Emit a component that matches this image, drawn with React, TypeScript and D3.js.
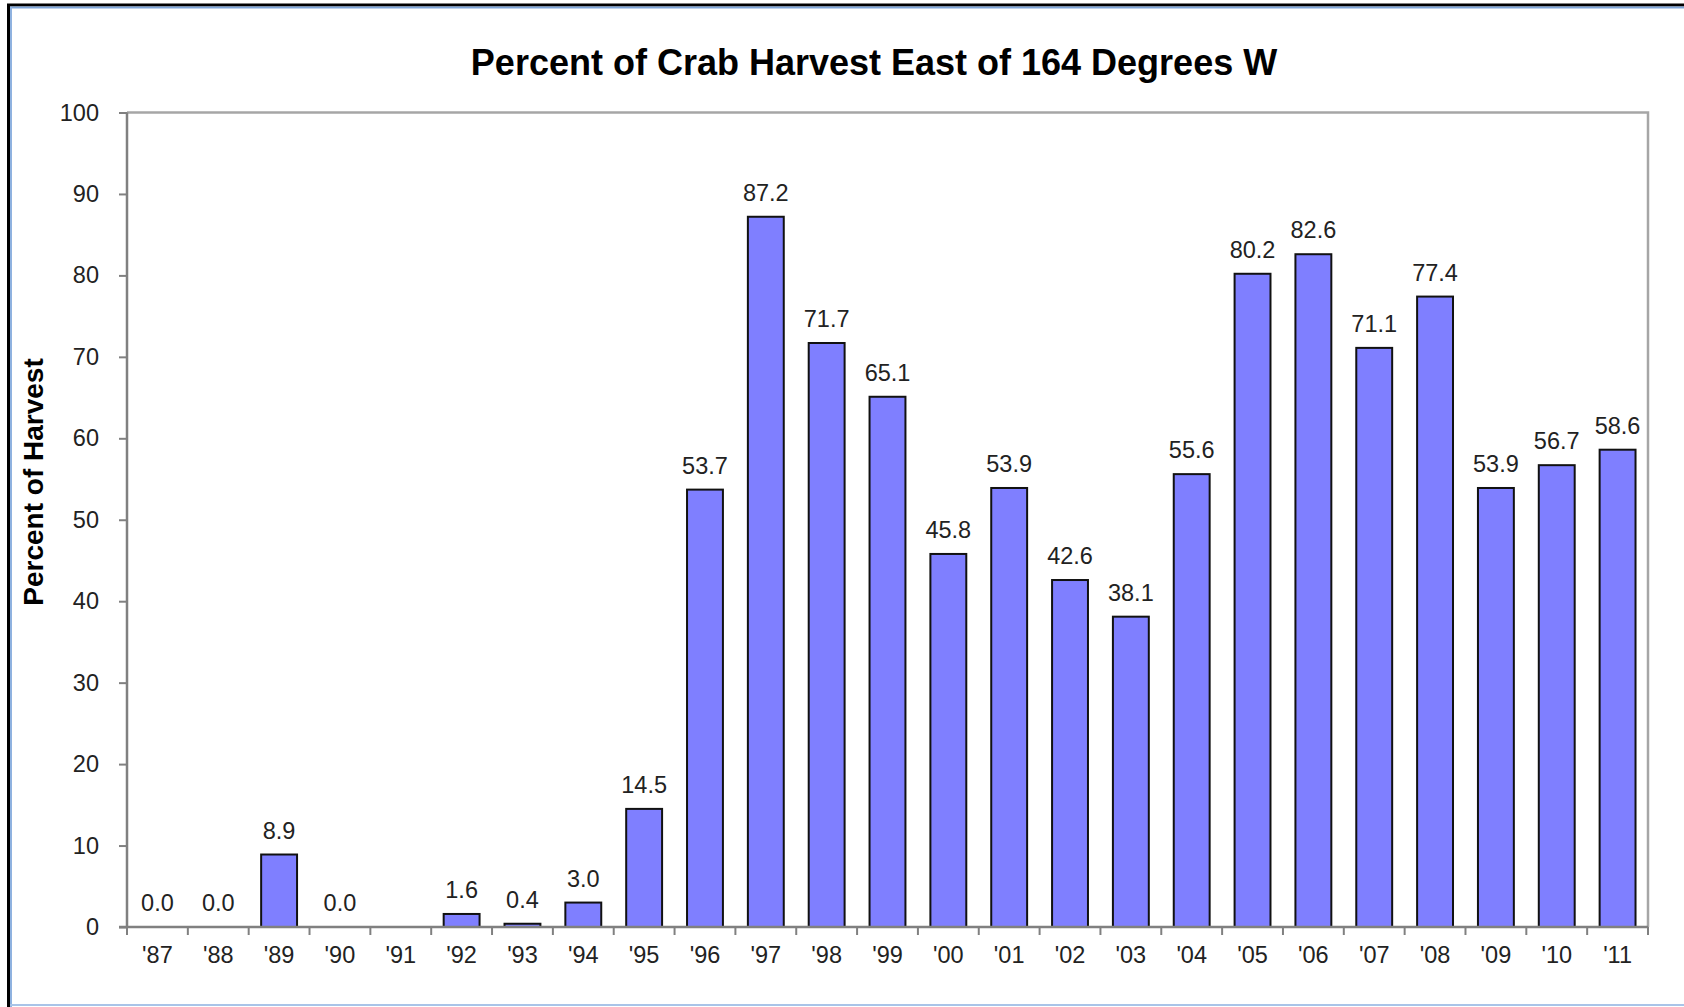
import React, { useRef, useEffect } from 'react';
import * as d3 from 'd3';

const years = ["'87", "'88", "'89", "'90", "'91", "'92", "'93", "'94", "'95", "'96", "'97", "'98", "'99",
  "'00", "'01", "'02", "'03", "'04", "'05", "'06", "'07", "'08", "'09", "'10", "'11"];

// null = no data for that season
const percentEast: (number | null)[] = [0.0, 0.0, 8.9, 0.0, null, 1.6, 0.4, 3.0, 14.5, 53.7, 87.2, 71.7, 65.1,
  45.8, 53.9, 42.6, 38.1, 55.6, 80.2, 82.6, 71.1, 77.4, 53.9, 56.7, 58.6];

const yTicks = [0, 10, 20, 30, 40, 50, 60, 70, 80, 90, 100];

const W = 1684;
const H = 1007;
const FONT = '"Liberation Sans", Arial, sans-serif';

const App = () => {
  const ref = useRef<SVGSVGElement>(null);

  useEffect(() => {
    const svg = d3.select(ref.current);
    svg.selectAll('*').remove();

    const plot = { left: 127, right: 1648, top: 112.5, bottom: 927 };

    const x = d3.scaleBand<string>()
      .domain(years)
      .range([plot.left, plot.right])
      .paddingInner(0.41)
      .paddingOuter(0.205);

    const y = d3.scaleLinear().domain([0, 100]).range([plot.bottom, plot.top]);

    const band = (plot.right - plot.left) / years.length;

    // window frame
    svg.append('rect').attr('x', 0).attr('y', 0).attr('width', W).attr('height', H).attr('fill', '#fff');
    svg.append('line').attr('x1', 7).attr('x2', W).attr('y1', 5).attr('y2', 5)
      .attr('stroke', '#000').attr('stroke-width', 3);
    svg.append('line').attr('x1', 8.5).attr('x2', 8.5).attr('y1', 4).attr('y2', H)
      .attr('stroke', '#000').attr('stroke-width', 3);
    svg.append('line').attr('x1', 10).attr('x2', W).attr('y1', 7.5).attr('y2', 7.5)
      .attr('stroke', '#7fa6d9').attr('stroke-width', 2);
    svg.append('line').attr('x1', 11).attr('x2', 11).attr('y1', 7).attr('y2', H)
      .attr('stroke', '#8fb2e0').attr('stroke-width', 2);
    svg.append('line').attr('x1', 10).attr('x2', W).attr('y1', 1005).attr('y2', 1005)
      .attr('stroke', '#a9c4e8').attr('stroke-width', 2);

    // plot frame (top / right)
    svg.append('path')
      .attr('d', `M${plot.left},${plot.top}H${plot.right}V${plot.bottom}`)
      .attr('fill', 'none').attr('stroke', '#a6a6a6').attr('stroke-width', 2.5);

    // title
    svg.append('text')
      .attr('x', 874).attr('y', 75)
      .attr('text-anchor', 'middle')
      .attr('font-family', FONT).attr('font-weight', 'bold').attr('font-size', 36)
      .attr('fill', '#000')
      .text('Percent of Crab Harvest East of 164 Degrees W');

    // y axis title
    svg.append('text')
      .attr('transform', `translate(43,482) rotate(-90)`)
      .attr('text-anchor', 'middle')
      .attr('font-family', FONT).attr('font-weight', 'bold').attr('font-size', 28)
      .attr('fill', '#000')
      .text('Percent of Harvest');

    // bars
    const data = years.map((yr, i) => ({ yr, v: percentEast[i] }));
    svg.selectAll('.bar')
      .data(data.filter(d => d.v !== null && (d.v as number) > 0))
      .enter()
      .append('rect')
      .attr('class', 'bar')
      .attr('x', d => x(d.yr) as number)
      .attr('y', d => y(d.v as number))
      .attr('width', x.bandwidth())
      .attr('height', d => plot.bottom - y(d.v as number))
      .attr('fill', '#7f7fff')
      .attr('stroke', '#111')
      .attr('stroke-width', 2);

    // value labels
    svg.selectAll('.val')
      .data(data.filter(d => d.v !== null))
      .enter()
      .append('text')
      .attr('class', 'val')
      .attr('x', d => (x(d.yr) as number) + x.bandwidth() / 2)
      .attr('y', d => y(d.v as number) - 16)
      .attr('text-anchor', 'middle')
      .attr('font-family', FONT).attr('font-size', 23.5)
      .attr('fill', '#222')
      .text(d => (d.v as number).toFixed(1));

    // y axis
    const yAxis = svg.append('g')
      .attr('transform', `translate(${plot.left},0)`)
      .call(d3.axisLeft(y).tickValues(yTicks).tickSize(8).tickPadding(20).tickFormat(d => String(d)));
    yAxis.select('.domain').attr('stroke', '#808080').attr('stroke-width', 2.5)
      .attr('d', `M0,${plot.top}V${plot.bottom}`);
    yAxis.selectAll('.tick line').attr('stroke', '#808080').attr('stroke-width', 2);
    yAxis.selectAll('.tick text')
      .attr('font-family', FONT).attr('font-size', 23.5).attr('fill', '#222');

    // x axis: ticks sit between categories
    const xAxis = svg.append('g').attr('transform', `translate(0,${plot.bottom})`);
    xAxis.append('line')
      .attr('x1', plot.left - 8).attr('x2', plot.right)
      .attr('stroke', '#808080').attr('stroke-width', 2.5);
    xAxis.selectAll('.xt')
      .data(d3.range(years.length + 1))
      .enter()
      .append('line')
      .attr('class', 'xt')
      .attr('x1', i => plot.left + i * band).attr('x2', i => plot.left + i * band)
      .attr('y1', 0).attr('y2', 8)
      .attr('stroke', '#808080').attr('stroke-width', 2);
    xAxis.selectAll('.xl')
      .data(years)
      .enter()
      .append('text')
      .attr('class', 'xl')
      .attr('x', d => (x(d) as number) + x.bandwidth() / 2)
      .attr('y', 36)
      .attr('text-anchor', 'middle')
      .attr('font-family', FONT).attr('font-size', 23.5)
      .attr('fill', '#222')
      .text(d => d);
  }, []);

  return (
    <svg
      ref={ref}
      width={W}
      height={H}
      style={{ position: 'absolute', left: 0, top: 0, display: 'block' }}
    />
  );
};

export default App;
